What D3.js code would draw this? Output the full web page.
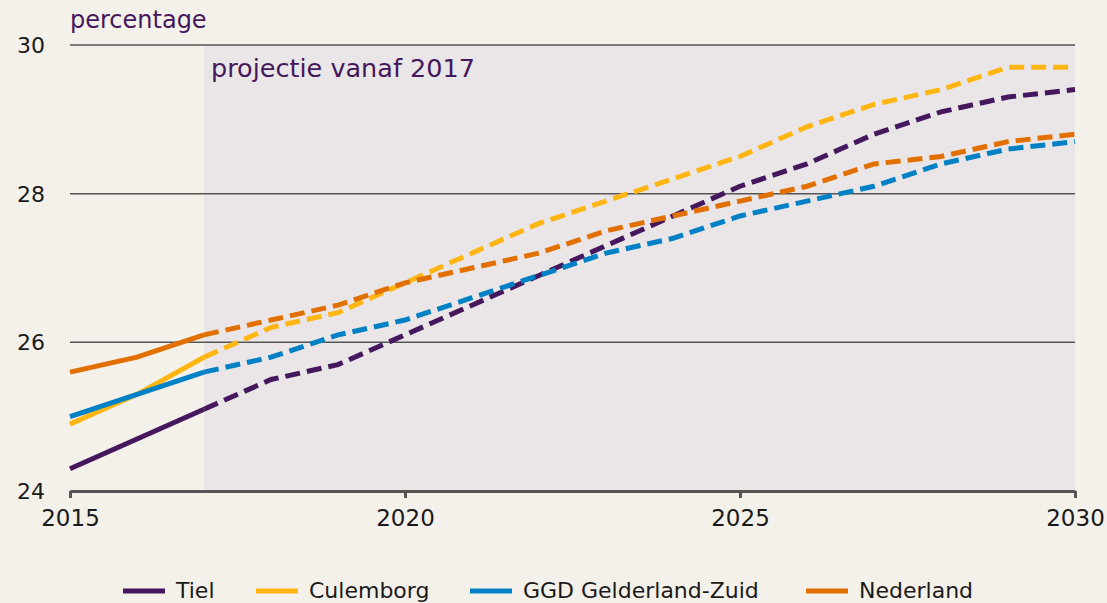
<!DOCTYPE html>
<html>
<head>
<meta charset="utf-8">
<script src="https://cdn.jsdelivr.net/npm/d3@7"></script>
<style>
  body { margin: 0; background: #f4f1ea; }
  svg { display: block; font-family: "DejaVu Sans", Verdana, sans-serif; }
</style>
</head>
<body>
<svg width="1107" height="603"></svg>
<script>
const years = d3.range(2015, 2031);
const tiel      = [24.3, 24.7, 25.1, 25.5, 25.7, 26.1, 26.5, 26.9, 27.3, 27.7, 28.1, 28.4, 28.8, 29.1, 29.3, 29.4];
const culemborg = [24.9, 25.3, 25.8, 26.2, 26.4, 26.8, 27.2, 27.6, 27.9, 28.2, 28.5, 28.9, 29.2, 29.4, 29.7, 29.7];
const ggd       = [25.0, 25.3, 25.6, 25.8, 26.1, 26.3, 26.6, 26.9, 27.2, 27.4, 27.7, 27.9, 28.1, 28.4, 28.6, 28.7];
const nederland = [25.6, 25.8, 26.1, 26.3, 26.5, 26.8, 27.0, 27.2, 27.5, 27.7, 27.9, 28.1, 28.4, 28.5, 28.7, 28.8];
const yTicks = [24, 26, 28, 30];
const xTicks = [2015, 2020, 2025, 2030];
const projStart = 2017;

const series = [
  {name: "Tiel", values: tiel, color: "#45175d"},
  {name: "Culemborg", values: culemborg, color: "#ffb612"},
  {name: "GGD Gelderland-Zuid", values: ggd, color: "#0081c6"},
  {name: "Nederland", values: nederland, color: "#e17000"}
];

const svg = d3.select("svg");
const x = d3.scaleLinear().domain([2015, 2030]).range([70, 1075]);
const y = d3.scaleLinear().domain([24, 30]).range([491, 45]);

// projection shading
svg.append("rect")
    .attr("x", x(projStart))
    .attr("y", y(30))
    .attr("width", x(2030) - x(projStart))
    .attr("height", y(24) - y(30))
    .attr("fill", "#eae6e7");

// gridlines
svg.append("g")
  .selectAll("line")
  .data(yTicks.filter(d => d !== 24))
  .enter().append("line")
    .attr("x1", x(2015)).attr("x2", x(2030))
    .attr("y1", d => y(d)).attr("y2", d => y(d))
    .attr("stroke", "#555")
    .attr("stroke-width", 1.5);

// y labels
svg.append("g")
  .selectAll("text")
  .data(yTicks)
  .enter().append("text")
    .attr("x", 45)
    .attr("y", d => y(d) + 8)
    .attr("text-anchor", "end")
    .attr("font-size", 22)
    .attr("fill", "#1a1a1a")
    .text(d => d);

// x axis
const xAxis = svg.append("g")
    .attr("transform", `translate(0,${y(24)})`)
    .call(d3.axisBottom(x).tickValues(xTicks).tickFormat(d3.format("d")).tickSize(7).tickSizeOuter(0));
xAxis.select(".domain").attr("stroke", "#555").attr("stroke-width", 3);
xAxis.selectAll(".tick line").attr("stroke", "#555").attr("stroke-width", 3);
xAxis.selectAll(".tick text")
    .attr("font-size", 23)
    .attr("font-family", "DejaVu Sans, Verdana, sans-serif")
    .attr("fill", "#1a1a1a")
    .attr("y", 19)
    .attr("dy", "0.71em");

const line = d3.line()
    .x(d => x(d.year))
    .y(d => y(d.v));

series.forEach(s => {
  const pts = years.map((yr, i) => ({year: yr, v: s.values[i]}));
  const hist = pts.filter(p => p.year <= projStart);
  const proj = pts.filter(p => p.year >= projStart);
  svg.append("path")
      .datum(hist)
      .attr("d", line)
      .attr("fill", "none")
      .attr("stroke", s.color)
      .attr("stroke-width", 5);
  svg.append("path")
      .datum(proj)
      .attr("d", line)
      .attr("fill", "none")
      .attr("stroke", s.color)
      .attr("stroke-width", 5)
      .attr("stroke-dasharray", "15,7");
});

// titles
svg.append("text")
    .attr("x", 70).attr("y", 28)
    .attr("font-size", 24)
    .attr("fill", "#45175d")
    .text("percentage");
svg.append("text")
    .attr("x", 211).attr("y", 77)
    .attr("font-size", 25.5)
    .attr("fill", "#45175d")
    .text("projectie vanaf 2017");

// legend
const legendX = [123, 256, 470, 806];
const legend = svg.append("g")
  .selectAll("g")
  .data(series)
  .enter().append("g")
    .attr("transform", (d, i) => `translate(${legendX[i]},591)`);
legend.append("line")
    .attr("x1", 0).attr("x2", 42)
    .attr("stroke", d => d.color)
    .attr("stroke-width", 5);
legend.append("text")
    .attr("x", 53).attr("y", 7)
    .attr("font-size", 22)
    .attr("fill", "#1a1a1a")
    .text(d => d.name);
</script>
</body>
</html>
